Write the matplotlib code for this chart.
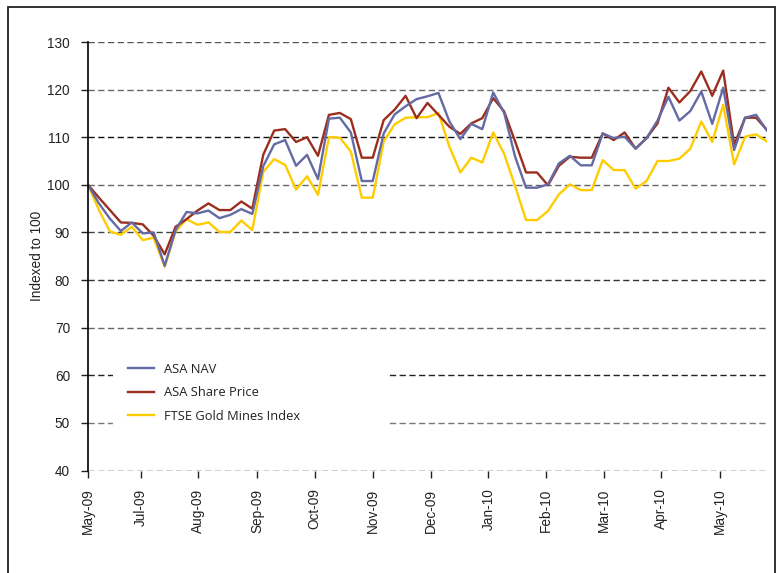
import matplotlib
matplotlib.use("Agg")
import matplotlib.pyplot as plt
from matplotlib.patches import Rectangle
from matplotlib.lines import Line2D

# ---------------- data ----------------
asa_nav = [100, 96.1, 92.9, 90.3, 92.1, 89.8, 90.0, 83.0, 90.5, 94.3, 94.0, 94.6, 93.0, 93.7,
           94.9, 93.9, 103.9, 108.5, 109.4, 104.0, 106.3, 101.2, 113.9, 114.1, 111.0, 100.8,
           100.8, 110.8, 114.8, 116.5, 118.0, 118.6, 119.3, 113.3, 109.6, 112.8, 111.7, 119.4,
           115.1, 105.9, 99.4, 99.4, 100.1, 104.5, 106.1, 104.1, 104.1, 110.8, 109.8, 110.1,
           107.6, 109.8, 113.5, 118.5, 113.5, 115.5, 119.6, 112.8, 120.4, 107.3, 114.1, 114.7,
           111.4]
asa_share = [100, 97.3, 94.7, 92.1, 92.0, 91.7, 89.3, 85.4, 91.2, 92.8, 94.6, 96.1, 94.7, 94.7,
             96.5, 95.0, 106.3, 111.4, 111.7, 109.0, 110.0, 106.1, 114.7, 115.1, 113.8, 105.7,
             105.7, 113.6, 115.8, 118.7, 114.0, 117.2, 114.7, 112.2, 110.7, 112.9, 114.0, 118.2,
             115.4, 109.1, 102.6, 102.6, 99.9, 104.0, 105.9, 105.7, 105.7, 110.8, 109.4, 111.0,
             107.6, 109.8, 112.9, 120.4, 117.3, 119.7, 123.8, 118.7, 124.0, 108.4, 114.1, 114.1,
             111.5]
ftse_gold = [100, 94.7, 90.2, 89.5, 91.2, 88.4, 88.9, 82.8, 90.2, 92.8, 91.6, 92.1, 90.1, 90.1,
             92.5, 90.5, 102.7, 105.4, 104.2, 99.0, 101.8, 97.9, 110.0, 109.9, 107.0, 97.3,
             97.3, 109.1, 112.7, 114.1, 114.2, 114.2, 115.1, 108.0, 102.6, 105.7, 104.7, 111.0,
             106.5, 99.7, 92.6, 92.6, 94.5, 98.0, 100.1, 98.9, 98.9, 105.2, 103.1, 103.1,
             99.2, 100.8, 105.0, 105.0, 105.5, 107.6, 113.3, 109.0, 116.8, 104.3, 110.1, 110.6,
             109.1]
series_names = ["ASA NAV", "ASA Share Price", "FTSE Gold Mines Index"]
month_labels = ["May-09", "Jul-09", "Aug-09", "Sep-09", "Oct-09", "Nov-09", "Dec-09",
                "Jan-10", "Feb-10", "Mar-10", "Apr-10", "May-10"]
month_pos = [0, 4.84, 10.08, 15.45, 20.69, 25.99, 31.29, 36.56, 41.83, 47.1, 52.28, 57.67]
y_ticks = [40, 50, 60, 70, 80, 90, 100, 110, 120, 130]

# ---------------- figure ----------------
W, H = 776, 573
fig = plt.figure(figsize=(W / 100, H / 100), dpi=100)
fig.patch.set_facecolor("white")

L, R, T, B = 88, 767, 42, 470.5
ax = fig.add_axes([L / W, 1 - B / H, (R - L) / W, (B - T) / H])

x = list(range(len(asa_nav)))
c_nav, c_share, c_ftse = "#646aa3", "#9a2e1f", "#ffcc00"

grid_cols = {40: "#111111", 50: "#777777", 60: "#222222", 70: "#666666", 80: "#333333",
             90: "#444444", 100: "#666666", 110: "#111111", 120: "#666666", 130: "#555555"}
for v in y_ticks:
    ax.axhline(v, color=grid_cols[v], lw=1.0, ls=(0, (4.5, 2.5)), zorder=1)

ax.plot(x, ftse_gold, color=c_ftse, lw=1.7, zorder=3)
ax.plot(x, asa_share, color=c_share, lw=1.7, zorder=4)
ax.plot(x, asa_nav, color=c_nav, lw=1.7, zorder=5)

ax.set_xlim(0, len(asa_nav) - 1)
ax.set_ylim(40, 130)

for s in ["top", "right", "bottom"]:
    ax.spines[s].set_visible(False)
ax.spines["left"].set_color("black")
ax.spines["left"].set_linewidth(1.2)
ax.spines["left"].set_zorder(6)

ax.set_yticks(y_ticks)
ax.set_yticklabels([str(v) for v in y_ticks], family="Liberation Sans", fontsize=9.8, color="#222222")
ax.set_xticks(month_pos)
ax.set_xticklabels(month_labels, rotation=90, family="Liberation Sans", fontsize=9.8,
                   color="#222222")
ax.tick_params(axis="y", length=5, width=1, pad=8, color="#222222")
ax.tick_params(axis="x", length=5, width=1, pad=8, color="#222222")

# white area behind legend (covers gridlines)
ax.add_patch(Rectangle(((113 - L) / (R - L), (B - 455) / (B - T)),
                       (388 - 113) / (R - L), (455 - 345) / (B - T),
                       transform=ax.transAxes, facecolor="white", edgecolor="none", zorder=2))

handles = [Line2D([], [], color=c_nav, lw=1.7),
           Line2D([], [], color=c_share, lw=1.7),
           Line2D([], [], color=c_ftse, lw=1.7)]
leg = ax.legend(handles, series_names, loc="upper left",
                bbox_to_anchor=((128 - L) / (R - L), (B - 363) / (B - T)),
                frameon=False, prop={"family": "Open Sans", "size": 9.3},
                handlelength=2.0, handletextpad=0.8, labelspacing=0.8,
                borderpad=0, borderaxespad=0)
for t in leg.get_texts():
    t.set_color("#222222")
leg.set_zorder(7)

fig.text(37 / W, 1 - 256 / H, "Indexed to 100", rotation=90, ha="center", va="center",
         family="Liberation Sans", fontsize=9.8, color="#222222")

# outer frame
fig.add_artist(Rectangle((8 / W, -0.05), (775 - 8) / W, (H - 7) / H + 0.05,
                         transform=fig.transFigure, fill=False, edgecolor="#222222", lw=1.3))

fig.savefig("out.png", dpi=100)
